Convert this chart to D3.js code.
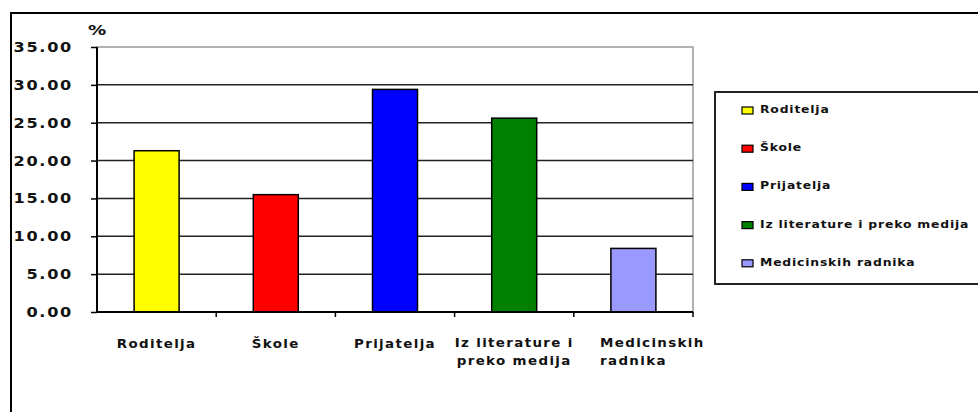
<!DOCTYPE html>
<html><head><meta charset="utf-8">
<script src="https://cdn.jsdelivr.net/npm/d3@7"></script>
<style>body{margin:0;background:#fff}svg{display:block}text{font-family:"DejaVu Sans",Arial,sans-serif;font-weight:bold;fill:#111}</style>
</head><body><svg id="c" width="978" height="412"></svg>
<script>
const categories = ["Roditelja","Škole","Prijatelja","Iz literature i preko medija","Medicinskih radnika"];
const axisLabels = [["Roditelja"],["Škole"],["Prijatelja"],["Iz literature i","preko medija"],["Medicinskih","radnika"]];
const values = [21.3, 15.5, 29.4, 25.6, 8.4];
const colors = ["#ffff00","#ff0000","#0000ff","#008000","#9999ff"];
const yTicks = [0,5,10,15,20,25,30,35];

const svg = d3.select("#c");
svg.append("rect").attr("width",978).attr("height",412).attr("fill","#fff");
svg.append("rect").attr("x",11).attr("y",13).attr("width",1100).attr("height",600)
  .attr("fill","#fff").attr("stroke","#000").attr("stroke-width",2);

const L=97,R=693,T=47,B=312;
const x = d3.scaleBand().domain(categories).range([L,R]).paddingInner(0.6225).paddingOuter(0.31125);
const y = d3.scaleLinear().domain([0,35]).range([B,T]);

// plot border
svg.append("rect").attr("x",L).attr("y",T).attr("width",R-L).attr("height",B-T)
  .attr("fill","#fff").attr("stroke","#999").attr("stroke-width",1.5);

// gridlines
svg.append("g").selectAll("line").data(yTicks.filter(d=>d>0 && d<35)).join("line")
  .attr("x1",L).attr("x2",R).attr("y1",d=>y(d)).attr("y2",d=>y(d))
  .attr("stroke","#222").attr("stroke-width",1.5);

// bars
svg.append("g").selectAll("rect").data(values).join("rect")
  .attr("x",(d,i)=>x(categories[i])).attr("width",x.bandwidth())
  .attr("y",d=>y(d)).attr("height",d=>y(0)-y(d))
  .attr("fill",(d,i)=>colors[i]).attr("stroke","#000").attr("stroke-width",1.5);

// y axis
const ya = svg.append("g").attr("transform",`translate(${L},0)`)
  .call(d3.axisLeft(y).tickValues(yTicks).tickSize(6).tickFormat(""));
ya.selectAll("line").attr("stroke","#000").attr("stroke-width",1.5);
ya.select(".domain").attr("stroke","#000").attr("stroke-width",2).attr("d",`M0,${T}V${B}`);
svg.append("g").selectAll("text").data(yTicks).join("text")
  .attr("transform",d=>`translate(73,${y(d)+5}) scale(1.15,1)`)
  .attr("text-anchor","end").attr("font-size",14).attr("letter-spacing",1.5)
  .text(d=>d3.format(".2f")(d));
svg.append("text").attr("transform","translate(88,35) scale(1.3,1)").attr("font-size",14).text("%");

// x axis
svg.append("line").attr("x1",L).attr("x2",R).attr("y1",B).attr("y2",B).attr("stroke","#000").attr("stroke-width",2);
const bounds = categories.map((c,i)=>x(c)+x.bandwidth()+x.step()*x.paddingInner()/2);
svg.append("g").selectAll("line").data(bounds).join("line")
  .attr("x1",d=>d).attr("x2",d=>d).attr("y1",B).attr("y2",B+5).attr("stroke","#000").attr("stroke-width",1.5);

const xl = svg.append("g").selectAll("text").data(axisLabels).join("text")
  .attr("font-size",12).attr("letter-spacing",1.2)
  .attr("text-anchor",(d,i)=>i===4?"start":"middle")
  .attr("transform",(d,i)=>{
    const cx = x(categories[i])+x.bandwidth()/2;
    return `translate(${i===4?600:cx},${d.length>1?347:348}) scale(1.12,1)`;});
xl.selectAll("tspan").data(d=>d).join("tspan")
  .attr("x",0).attr("dy",(d,j)=>j===0?0:18).text(d=>d);

// legend
svg.append("rect").attr("x",715).attr("y",92).attr("width",400).attr("height",192)
  .attr("fill","#fff").attr("stroke","#222").attr("stroke-width",2);
const lg = svg.append("g").selectAll("g").data(categories).join("g")
  .attr("transform",(d,i)=>`translate(742,${108+i*38.2})`);
lg.append("rect").attr("x",0).attr("y",-1).attr("width",11).attr("height",7)
  .attr("fill",(d,i)=>colors[i]).attr("stroke","#000").attr("stroke-width",1.2);
lg.append("text").attr("transform","translate(18,5) scale(1.13,1)").attr("font-size",11).attr("letter-spacing",0.7).text(d=>d);
</script></body></html>
